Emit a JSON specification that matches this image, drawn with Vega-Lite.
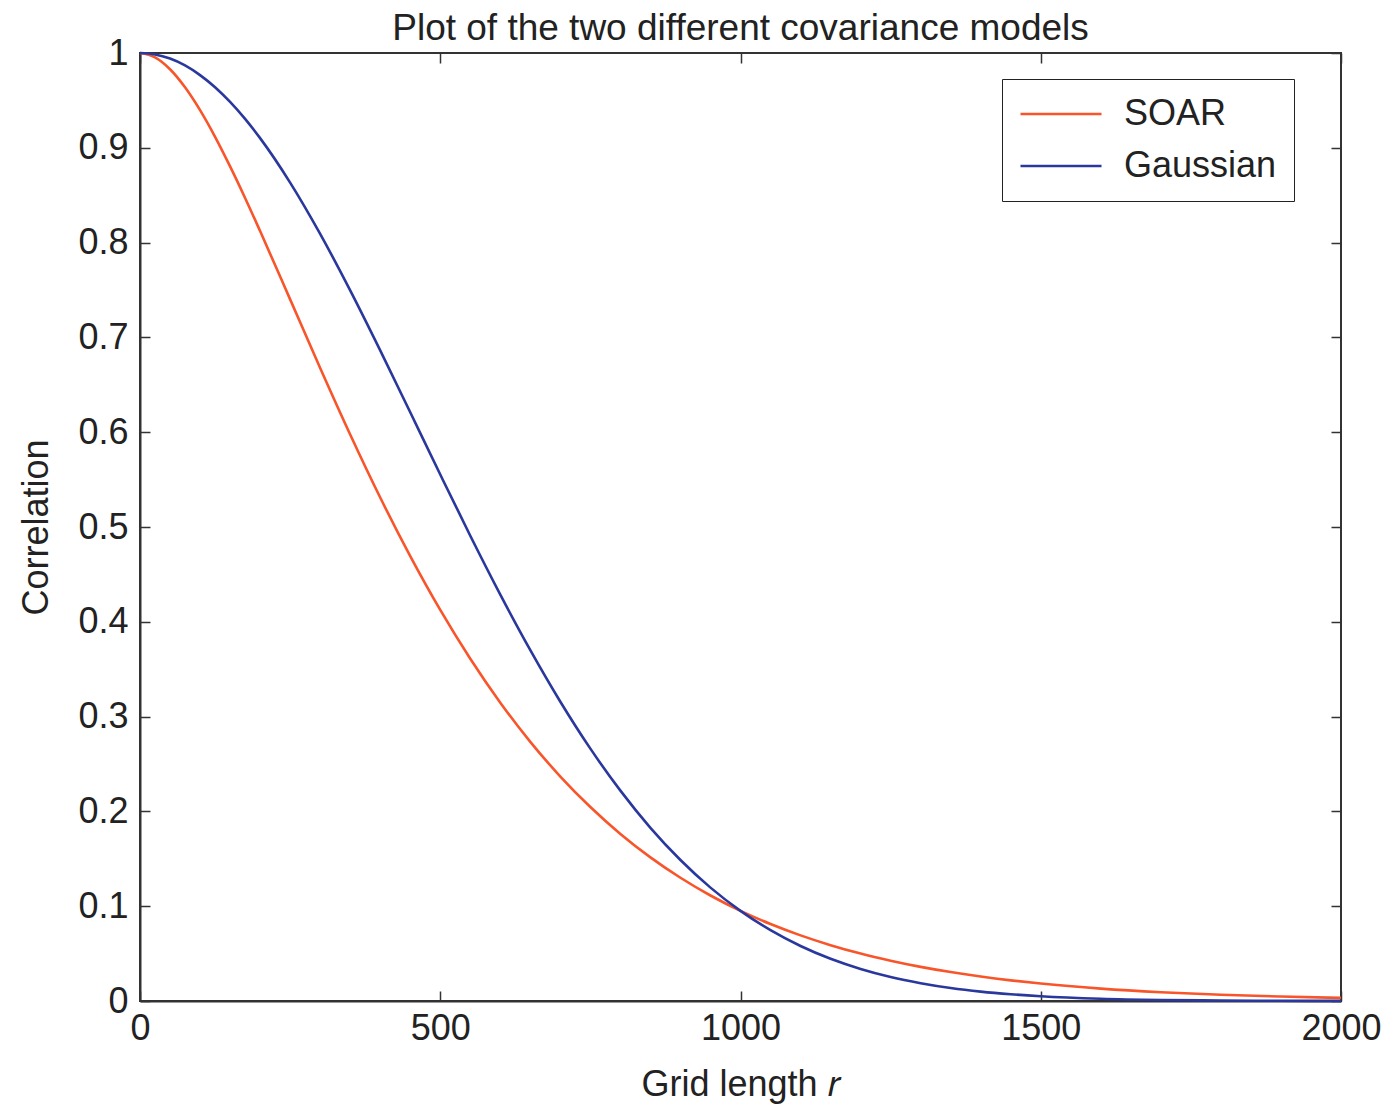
{
  "$schema": "https://vega.github.io/schema/vega-lite/v6.json",
  "autosize": "none",
  "width": 1201,
  "height": 948,
  "padding": {"left": 140, "top": 53, "right": 48, "bottom": 106},
  "background": "white",
  "title": {
    "text": "Plot of the two different covariance models",
    "font": "Liberation Sans",
    "fontSize": 37,
    "fontWeight": "normal",
    "color": "#222222",
    "anchor": "middle",
    "baseline": "alphabetic",
    "offset": -42
  },
  "config": {
    "view": {"stroke": "#333333", "strokeWidth": 2},
    "axis": {
      "labelFont": "Liberation Sans",
      "titleFont": "Liberation Sans",
      "labelFontSize": 36,
      "titleFontSize": 36,
      "titleFontWeight": "normal",
      "labelColor": "#222222",
      "titleColor": "#222222",
      "domainColor": "#333333",
      "domainWidth": 2,
      "tickColor": "#333333",
      "tickWidth": 1.5,
      "tickSize": -10,
      "grid": false
    }
  },
  "data": {
    "values": [
      {"r": 0, "series": "SOAR", "value": 1.0},
      {"r": 25, "series": "SOAR", "value": 0.9954},
      {"r": 50, "series": "SOAR", "value": 0.9829},
      {"r": 75, "series": "SOAR", "value": 0.9638},
      {"r": 100, "series": "SOAR", "value": 0.9397},
      {"r": 125, "series": "SOAR", "value": 0.9116},
      {"r": 150, "series": "SOAR", "value": 0.8804},
      {"r": 175, "series": "SOAR", "value": 0.8471},
      {"r": 200, "series": "SOAR", "value": 0.8122},
      {"r": 250, "series": "SOAR", "value": 0.7401},
      {"r": 300, "series": "SOAR", "value": 0.6678},
      {"r": 350, "series": "SOAR", "value": 0.5976},
      {"r": 400, "series": "SOAR", "value": 0.5311},
      {"r": 450, "series": "SOAR", "value": 0.4693},
      {"r": 500, "series": "SOAR", "value": 0.4125},
      {"r": 550, "series": "SOAR", "value": 0.3610},
      {"r": 600, "series": "SOAR", "value": 0.3147},
      {"r": 650, "series": "SOAR", "value": 0.2734},
      {"r": 700, "series": "SOAR", "value": 0.2368},
      {"r": 750, "series": "SOAR", "value": 0.2046},
      {"r": 800, "series": "SOAR", "value": 0.1762},
      {"r": 850, "series": "SOAR", "value": 0.1515},
      {"r": 900, "series": "SOAR", "value": 0.1300},
      {"r": 950, "series": "SOAR", "value": 0.1113},
      {"r": 1000, "series": "SOAR", "value": 0.0951},
      {"r": 1050, "series": "SOAR", "value": 0.0812},
      {"r": 1100, "series": "SOAR", "value": 0.0692},
      {"r": 1150, "series": "SOAR", "value": 0.0589},
      {"r": 1200, "series": "SOAR", "value": 0.0500},
      {"r": 1250, "series": "SOAR", "value": 0.0425},
      {"r": 1300, "series": "SOAR", "value": 0.0360},
      {"r": 1350, "series": "SOAR", "value": 0.0305},
      {"r": 1400, "series": "SOAR", "value": 0.0258},
      {"r": 1450, "series": "SOAR", "value": 0.0218},
      {"r": 1500, "series": "SOAR", "value": 0.0184},
      {"r": 1600, "series": "SOAR", "value": 0.0131},
      {"r": 1700, "series": "SOAR", "value": 0.0093},
      {"r": 1800, "series": "SOAR", "value": 0.0066},
      {"r": 1900, "series": "SOAR", "value": 0.0047},
      {"r": 2000, "series": "SOAR", "value": 0.0033},
      {"r": 0, "series": "Gaussian", "value": 1.0},
      {"r": 25, "series": "Gaussian", "value": 0.9985},
      {"r": 50, "series": "Gaussian", "value": 0.9941},
      {"r": 75, "series": "Gaussian", "value": 0.9869},
      {"r": 100, "series": "Gaussian", "value": 0.9767},
      {"r": 125, "series": "Gaussian", "value": 0.9639},
      {"r": 150, "series": "Gaussian", "value": 0.9484},
      {"r": 175, "series": "Gaussian", "value": 0.9305},
      {"r": 200, "series": "Gaussian", "value": 0.9102},
      {"r": 250, "series": "Gaussian", "value": 0.8633},
      {"r": 300, "series": "Gaussian", "value": 0.8092},
      {"r": 350, "series": "Gaussian", "value": 0.7496},
      {"r": 400, "series": "Gaussian", "value": 0.6863},
      {"r": 450, "series": "Gaussian", "value": 0.6210},
      {"r": 500, "series": "Gaussian", "value": 0.5554},
      {"r": 550, "series": "Gaussian", "value": 0.4908},
      {"r": 600, "series": "Gaussian", "value": 0.4287},
      {"r": 650, "series": "Gaussian", "value": 0.3701},
      {"r": 700, "series": "Gaussian", "value": 0.3157},
      {"r": 750, "series": "Gaussian", "value": 0.2662},
      {"r": 800, "series": "Gaussian", "value": 0.2219},
      {"r": 850, "series": "Gaussian", "value": 0.1827},
      {"r": 900, "series": "Gaussian", "value": 0.1487},
      {"r": 950, "series": "Gaussian", "value": 0.1196},
      {"r": 1000, "series": "Gaussian", "value": 0.0951},
      {"r": 1050, "series": "Gaussian", "value": 0.0747},
      {"r": 1100, "series": "Gaussian", "value": 0.0580},
      {"r": 1150, "series": "Gaussian", "value": 0.0445},
      {"r": 1200, "series": "Gaussian", "value": 0.0338},
      {"r": 1250, "series": "Gaussian", "value": 0.0253},
      {"r": 1300, "series": "Gaussian", "value": 0.0188},
      {"r": 1350, "series": "Gaussian", "value": 0.0137},
      {"r": 1400, "series": "Gaussian", "value": 0.0099},
      {"r": 1450, "series": "Gaussian", "value": 0.0071},
      {"r": 1500, "series": "Gaussian", "value": 0.0050},
      {"r": 1600, "series": "Gaussian", "value": 0.0024},
      {"r": 1700, "series": "Gaussian", "value": 0.0011},
      {"r": 1800, "series": "Gaussian", "value": 0.0005},
      {"r": 1900, "series": "Gaussian", "value": 0.0002},
      {"r": 2000, "series": "Gaussian", "value": 0.0001}
    ]
  },
  "resolve": {"axis": {"x": "independent", "y": "independent"}},
  "layer": [
    {
      "mark": {"type": "line", "strokeWidth": 2.6, "interpolate": "monotone"},
      "encoding": {
        "x": {
          "field": "r",
          "type": "quantitative",
          "scale": {"domain": [0, 2000], "nice": false},
          "axis": {
            "orient": "bottom",
            "title": "Grid length 𝑟",
            "values": [0, 500, 1000, 1500, 2000],
            "format": "d",
            "labelPadding": 20,
            "labelFlush": false,
            "titleBaseline": "alphabetic",
            "titleY": 94
          }
        },
        "y": {
          "field": "value",
          "type": "quantitative",
          "scale": {"domain": [0, 1], "nice": false},
          "axis": {
            "orient": "left",
            "title": "Correlation",
            "values": [0, 0.1, 0.2, 0.3, 0.4, 0.5, 0.6, 0.7, 0.8, 0.9, 1],
            "format": "~g",
            "labelPadding": 22,
            "labelFlush": false,
            "titleX": -104,
            "titleBaseline": "middle"
          }
        },
        "color": {
          "field": "series",
          "type": "nominal",
          "scale": {"domain": ["SOAR", "Gaussian"], "range": ["#f9552b", "#2a389e"]},
          "legend": {
            "title": null,
            "orient": "none",
            "legendX": 862,
            "legendY": 26,
            "strokeColor": "#222222",
            "fillColor": "white",
            "padding": 17,
            "clipHeight": 36,
            "symbolType": "stroke",
            "symbolSize": 6561,
            "symbolStrokeWidth": 2.6,
            "symbolOffset": 0,
            "labelFont": "Liberation Sans",
            "labelFontSize": 36,
            "labelColor": "#222222",
            "labelOffset": 21,
            "rowPadding": 16
          }
        }
      }
    },
    {
      "mark": {"type": "point", "opacity": 0},
      "encoding": {
        "x": {
          "field": "r",
          "type": "quantitative",
          "axis": {
            "orient": "top",
            "title": null,
            "labels": false,
            "domain": false,
            "values": [0, 500, 1000, 1500, 2000]
          }
        },
        "y": {
          "field": "value",
          "type": "quantitative",
          "axis": {
            "orient": "right",
            "title": null,
            "labels": false,
            "domain": false,
            "values": [0, 0.1, 0.2, 0.3, 0.4, 0.5, 0.6, 0.7, 0.8, 0.9, 1]
          }
        }
      }
    }
  ]
}
